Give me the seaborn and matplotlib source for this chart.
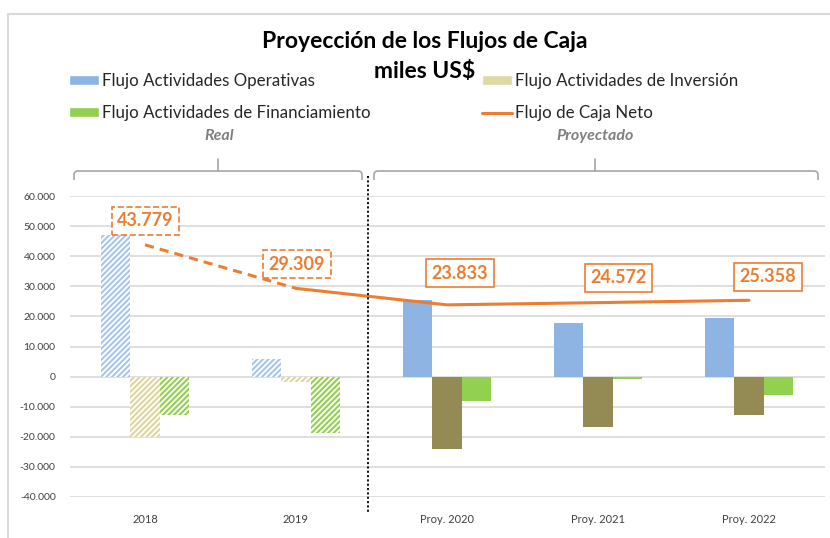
import matplotlib
matplotlib.use("Agg")
import matplotlib.pyplot as plt
import seaborn as sns
import pandas as pd
import numpy as np
from matplotlib.patches import Patch, PathPatch
from matplotlib.lines import Line2D
from matplotlib.path import Path

# ---------------- data ----------------
years = ["2018", "2019", "Proy. 2020", "Proy. 2021", "Proy. 2022"]
flujo_operativas = [47000, 6000, 25600, 17900, 19500]
flujo_inversion = [-20000, -1700, -24100, -16700, -12900]
flujo_financiamiento = [-12900, -18700, -8000, -800, -6000]
flujo_neto = [43779, 29309, 23833, 24572, 25358]
series_names = ["Flujo Actividades Operativas",
                "Flujo Actividades de Inversión",
                "Flujo Actividades de Financiamiento"]
n_real = 2  # first two years are real (hatched)

yticks = [-40000, -30000, -20000, -10000, 0, 10000, 20000, 30000, 40000, 50000, 60000]

# ---------------- style ----------------
FONT = "Lato"
sns.set_theme(style="white")
plt.rcParams["font.family"] = [FONT, "DejaVu Sans"]
plt.rcParams["hatch.linewidth"] = 1.5

W, H = 830, 538
fig = plt.figure(figsize=(W / 100, H / 100), dpi=100)

def fx(x):
    return x / W

def fy(y):
    return 1 - y / H

ax = fig.add_axes([fx(69.5), fy(497), (824.5 - 69.5) / W, (497 - 196) / H])

fill_cols = ["#8DB4E2", "#948A54", "#92D050"]
hatch_cols = ["#A9C5EB", "#DDD69C", "#92D050"]
legend_cols = ["#8DB4E2", "#DDD9A3", "#92D050"]
orange = "#ED7D31"

df = pd.DataFrame({
    "Año": years * 3,
    "Serie": [series_names[0]] * 5 + [series_names[1]] * 5 + [series_names[2]] * 5,
    "Valor": flujo_operativas + flujo_inversion + flujo_financiamiento,
})

sns.barplot(data=df, x="Año", y="Valor", hue="Serie", order=years,
            hue_order=series_names, palette=fill_cols, width=0.58,
            saturation=1, legend=False, ax=ax, errorbar=None, zorder=3)

for i, cont in enumerate(ax.containers):
    for j, bar in enumerate(cont.patches):
        bar.set_linewidth(0)
        if j < n_real:
            bar.set_facecolor("white")
            bar.set_edgecolor(hatch_cols[i])
            bar.set_hatch("//////")
            bar.set_linewidth(0)

# net cash flow line: dashed for real, solid for projected
sns.lineplot(x=years[:2], y=flujo_neto[:2], ax=ax, color=orange, lw=2.2,
             linestyle=(0, (3, 2)), sort=False, zorder=4)
sns.lineplot(x=years[1:], y=flujo_neto[1:], ax=ax, color=orange, lw=2.2,
             sort=False, zorder=4)

# data labels
offsets = [(0.5, 24), (1, 24), (13, 31.5), (20.5, 25), (19, 23.5)]
for i, v in enumerate(flujo_neto):
    lbl = f"{v:,}".replace(",", ".")
    ls = "--" if i < n_real else "-"
    ax.annotate(lbl, xy=(i, v), xytext=offsets[i], textcoords="offset pixels",
                ha="center", va="center", color=orange, fontsize=13,
                fontweight="bold", zorder=6,
                bbox=dict(boxstyle="square,pad=0.3", fc="white", ec=orange,
                          ls=ls, lw=1.2))

ax.set_ylim(-40000, 60000)
ax.set_xlim(-0.5, 4.5)
ax.set_yticks(yticks)
ax.set_yticklabels([f"{t:,}".replace(",", ".") for t in yticks], fontsize=7.5,
                   color="#404040")
ax.set_xticks(range(len(years)))
ax.set_xticklabels(years, fontsize=8, color="#404040")
ax.tick_params(axis="y", length=0, pad=10)
ax.tick_params(axis="x", length=0, pad=12)
ax.set_xlabel("")
ax.set_ylabel("")
ax.grid(axis="y", color="#D9D9D9", lw=1.2, zorder=0)
ax.set_axisbelow(True)
for s in ax.spines.values():
    s.set_visible(False)

# vertical dotted separator
fig.add_artist(Line2D([fx(368), fx(368)], [fy(176), fy(512)], color="black",
                      lw=1.3, linestyle=(0, (1.2, 1.2))))

# brackets
def bracket(x0, x1, xm, y=171, drop=9, tick=12, r=4):
    verts = [(x0, y + drop), (x0, y + r), (x0, y), (x0 + r, y),
             (x1 - r, y), (x1, y), (x1, y + r), (x1, y + drop)]
    codes = [Path.MOVETO, Path.LINETO, Path.CURVE3, Path.CURVE3,
             Path.LINETO, Path.CURVE3, Path.CURVE3, Path.LINETO]
    verts = [(fx(a), fy(b)) for a, b in verts]
    fig.add_artist(PathPatch(Path(verts, codes), fill=False, ec="#A6A6A6", lw=1.2,
                             transform=fig.transFigure))
    fig.add_artist(Line2D([fx(xm), fx(xm)], [fy(y), fy(y - tick)], color="#A6A6A6",
                          lw=1.2))

bracket(74, 362, 218)
bracket(374, 818, 595)
fig.text(fx(219), fy(136), "Real", ha="center", va="center", fontsize=11.5,
         fontstyle="italic", fontweight="bold", color="#808080")
fig.text(fx(595), fy(136), "Proyectado", ha="center", va="center", fontsize=11.5,
         fontstyle="italic", fontweight="bold", color="#808080")

# title
fig.text(fx(425), fy(41), "Proyección de los Flujos de Caja", ha="center",
         va="center", fontsize=16.5, fontweight="bold", color="black")
fig.text(fx(425), fy(71), "miles US$", ha="center", va="center", fontsize=16.5,
         fontweight="bold", color="black")

# legends
fs = 12.2
hp = fs * 100 / 72
h_op = Patch(fc=legend_cols[0], label=series_names[0])
h_in = Patch(fc=legend_cols[1], label=series_names[1])
h_fi = Patch(fc=legend_cols[2], label=series_names[2])
h_ne = Line2D([], [], color=orange, lw=2.2, label="Flujo de Caja Neto")
common = dict(frameon=False, fontsize=fs, handlelength=30 / hp, handleheight=9 / hp,
              handletextpad=0.2, labelspacing=(33 - hp) / hp, borderpad=0,
              borderaxespad=0, loc="upper left")
leg1 = fig.legend(handles=[h_op, h_fi], bbox_to_anchor=(fx(69), fy(73)), **common)
leg2 = fig.legend(handles=[h_in, h_ne], bbox_to_anchor=(fx(482), fy(73)), **common)
for leg in (leg1, leg2):
    for t in leg.get_texts():
        t.set_color("#262626")

# outer chart border (left and top visible)
fig.add_artist(Line2D([fx(7.5), fx(7.5), fx(835)], [fy(545), fy(13.5), fy(13.5)],
                      color="#D9D9D9", lw=1.5))

fig.savefig("out.png", dpi=100)
